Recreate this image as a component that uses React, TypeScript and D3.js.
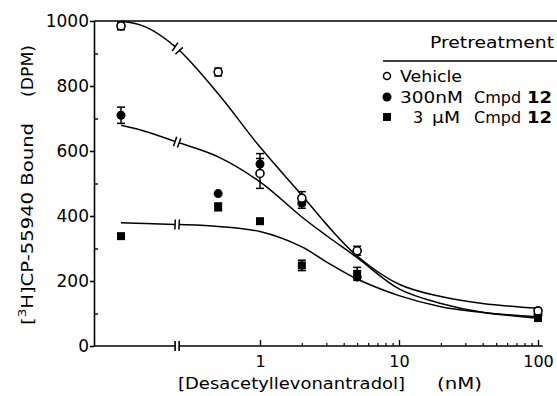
import React, { useEffect, useRef } from 'react';
import * as d3 from 'd3';

// measured points: concentration (nM), bound DPM and s.e.m.
const conc = [0.1, 0.5, 1, 2, 5, 100];
const vehicle = [985, 843, 531, 455, 293, 108];
const vehicleErr = [12, 12, 46, 20, 14, 8];
const cmpd300 = [710, 469, 560, 440, 212, 96];
const cmpd300Err = [25, 0, 32, 16, 0, 0];
const cmpd3 = [338, 428, 384, 248, 222, 86];
const cmpd3Err = [0, 12, 0, 16, 20, 8];

// fitted curves
const fitConc = [0.1, 0.15, 0.25, 0.5, 1, 2, 3, 5, 10, 20, 40, 100];
const vehicleFit = [1000, 982, 918, 776, 612, 464, 375, 277, 190, 152, 131, 116];
const cmpd300Fit = [679, 660, 628, 582, 505, 397, 340, 272, 176, 131, 104, 90];
const cmpd3Fit = [379, 377, 374, 368, 352, 305, 259, 206, 155, 121, 103, 85];

const yTicks = [0, 200, 400, 600, 800, 1000];
const yMinor = [100, 300, 500, 700, 900];
const xTicks = [1, 10, 100];
const xMinor = [2, 3, 4, 5, 6, 7, 8, 9, 20, 30, 40, 50, 60, 70, 80, 90];

export default function App() {
    const ref = useRef<SVGSVGElement | null>(null);

    useEffect(() => {
        const svg = d3.select(ref.current);
        svg.selectAll('*').remove();
        const width = 557, height = 396;
        const left = 94, axisEnd = 108, breakLo = 0.245, breakHi = 0.262;
        const font = 'DejaVu Sans';
        const fit = 'spacingAndGlyphs';

        const x = d3.scaleLog().domain([1, 100]).range([260, 538]);
        const y = d3.scaleLinear().domain([0, 1000]).range([346, 21]);
        const y0 = y(0);

        svg.attr('viewBox', `0 0 ${width} ${height}`);

        const defs = svg.append('defs');
        defs.append('clipPath').attr('id', 'clipL').append('rect')
            .attr('x', 0).attr('y', 0).attr('width', x(breakLo)).attr('height', height);
        defs.append('clipPath').attr('id', 'clipR').append('rect')
            .attr('x', x(breakHi)).attr('y', 0).attr('width', width - x(breakHi)).attr('height', height);

        // y axis
        const ya = svg.append('g').attr('transform', `translate(${left},0)`)
            .call(d3.axisLeft(y).tickValues(yTicks).tickSize(4).tickSizeOuter(0).tickPadding(1)
                .tickFormat(d3.format('d')));
        ya.selectAll('text').attr('font-family', font).attr('font-size', 17).attr('fill', '#000');
        ya.selectAll('line, path').attr('stroke', '#000').attr('stroke-width', 1.6);
        const ym = svg.append('g').attr('transform', `translate(${left},0)`)
            .call(d3.axisLeft(y).tickValues(yMinor).tickSize(-4).tickFormat(() => ''));
        ym.select('.domain').remove();
        ym.selectAll('line').attr('stroke', '#000').attr('stroke-width', 1.4);

        // top frame line
        svg.append('line').attr('x1', left).attr('x2', width).attr('y1', y(1000)).attr('y2', y(1000))
            .attr('stroke', '#000').attr('stroke-width', 1.6);

        // x axis with break
        const xa = svg.append('g').attr('transform', `translate(0,${y0})`)
            .call(d3.axisBottom(x).tickValues(xTicks).tickSize(-6).tickPadding(10).tickFormat(d3.format('d')));
        xa.select('.domain').remove();
        xa.selectAll('text').attr('font-family', font).attr('font-size', 16).attr('fill', '#000');
        xa.selectAll('line').attr('stroke', '#000').attr('stroke-width', 1.4);
        const xm = svg.append('g').attr('transform', `translate(0,${y0})`)
            .call(d3.axisBottom(x).tickValues(xMinor).tickSize(-3).tickFormat(() => ''));
        xm.select('.domain').remove();
        xm.selectAll('line').attr('stroke', '#000').attr('stroke-width', 1.2);

        const axisLine = svg.append('g').attr('stroke', '#000').attr('stroke-width', 1.6);
        axisLine.append('line').attr('x1', left).attr('x2', x(breakLo)).attr('y1', y0).attr('y2', y0);
        axisLine.append('line').attr('x1', x(breakHi)).attr('x2', x(axisEnd)).attr('y1', y0).attr('y2', y0);
        [breakLo, breakHi].forEach(b => {
            axisLine.append('line').attr('x1', x(b)).attr('x2', x(b)).attr('y1', y0 - 5).attr('y2', y0 + 5);
        });

        // fitted curves with break
        const line = d3.line<number>()
            .x((_, i) => x(fitConc[i]))
            .y(d => y(d))
            .curve(d3.curveCatmullRom.alpha(0.5));

        [vehicleFit, cmpd300Fit, cmpd3Fit].forEach(series => {
            ['clipL', 'clipR'].forEach(c => {
                svg.append('path').datum(series)
                    .attr('fill', 'none').attr('stroke', '#000').attr('stroke-width', 1.5)
                    .attr('clip-path', `url(#${c})`)
                    .attr('d', line as any);
            });
            const px = fitConc.map(c => x(c));
            const py = series.map(v => y(v));
            [breakLo, breakHi].forEach(b => {
                const bx = x(b);
                let i = 0;
                while (i < px.length - 2 && px[i + 1] < bx) i++;
                const t = (bx - px[i]) / (px[i + 1] - px[i]);
                const by = py[i] + t * (py[i + 1] - py[i]);
                const a = Math.atan2(py[i + 1] - py[i], px[i + 1] - px[i]);
                const dx = -Math.sin(a) * 5, dy = Math.cos(a) * 5;
                svg.append('line')
                    .attr('x1', bx - dx).attr('y1', by - dy).attr('x2', bx + dx).attr('y2', by + dy)
                    .attr('stroke', '#000').attr('stroke-width', 1.5);
            });
        });

        // error bars
        const errs = svg.append('g').attr('stroke', '#000').attr('stroke-width', 1.5);
        [[vehicle, vehicleErr], [cmpd300, cmpd300Err], [cmpd3, cmpd3Err]].forEach(([vals, e]) => {
            vals.forEach((v, i) => {
                if (!e[i]) return;
                const cx = x(conc[i]);
                errs.append('line').attr('x1', cx).attr('x2', cx).attr('y1', y(v - e[i])).attr('y2', y(v + e[i]));
                [v - e[i], v + e[i]].forEach(w => {
                    errs.append('line').attr('x1', cx - 4).attr('x2', cx + 4).attr('y1', y(w)).attr('y2', y(w));
                });
            });
        });

        // markers
        svg.append('g').selectAll('rect').data(cmpd3).join('rect')
            .attr('x', (_, i) => x(conc[i]) - 4).attr('y', d => y(d) - 4)
            .attr('width', 8).attr('height', 8).attr('fill', '#000');
        svg.append('g').selectAll('circle').data(cmpd300).join('circle')
            .attr('cx', (_, i) => x(conc[i])).attr('cy', d => y(d)).attr('r', 4.5).attr('fill', '#000');
        svg.append('g').selectAll('circle').data(vehicle).join('circle')
            .attr('cx', (_, i) => x(conc[i])).attr('cy', d => y(d)).attr('r', 4)
            .attr('fill', '#fff').attr('stroke', '#000').attr('stroke-width', 1.6);

        // axis titles
        svg.append('text').attr('x', 178).attr('y', 389)
            .attr('font-family', font).attr('font-size', 16)
            .attr('textLength', 227).attr('lengthAdjust', fit)
            .text('[Desacetyllevonantradol]');
        svg.append('text').attr('x', 437).attr('y', 389)
            .attr('font-family', font).attr('font-size', 16)
            .attr('textLength', 45).attr('lengthAdjust', fit)
            .text('(nM)');

        const yt = svg.append('text').attr('transform', 'translate(33,325) rotate(-90)')
            .attr('font-family', font).attr('font-size', 16)
            .attr('textLength', 202).attr('lengthAdjust', fit);
        yt.append('tspan').text('[');
        yt.append('tspan').attr('font-size', 11).attr('dy', -7).text('3');
        yt.append('tspan').attr('dy', 7).text('H]CP-55940 Bound');
        svg.append('text').attr('transform', 'translate(33,97) rotate(-90)')
            .attr('font-family', font).attr('font-size', 16)
            .attr('textLength', 52).attr('lengthAdjust', fit)
            .text('(DPM)');

        // legend
        const lg = svg.append('g').attr('font-family', font).attr('font-size', 16).attr('fill', '#000');
        lg.append('text').attr('x', 430).attr('y', 48)
            .attr('textLength', 124).attr('lengthAdjust', fit).text('Pretreatment');
        lg.append('line').attr('x1', 383).attr('x2', width).attr('y1', 61).attr('y2', 61)
            .attr('stroke', '#000').attr('stroke-width', 1.6);

        lg.append('circle').attr('cx', 387).attr('cy', 76).attr('r', 3.5)
            .attr('fill', '#fff').attr('stroke', '#000').attr('stroke-width', 1.5);
        lg.append('text').attr('x', 400).attr('y', 82)
            .attr('textLength', 62).attr('lengthAdjust', fit).text('Vehicle');

        lg.append('circle').attr('cx', 387).attr('cy', 97).attr('r', 4.5).attr('fill', '#000');
        lg.append('text').attr('x', 400).attr('y', 103)
            .attr('textLength', 63).attr('lengthAdjust', fit).text('300nM');
        lg.append('text').attr('x', 474).attr('y', 103).text('Cmpd');
        lg.append('text').attr('x', 527).attr('y', 103).attr('font-weight', 'bold')
            .attr('textLength', 25).attr('lengthAdjust', fit).text('12');

        lg.append('rect').attr('x', 383).attr('y', 113).attr('width', 8).attr('height', 8).attr('fill', '#000');
        lg.append('text').attr('x', 413).attr('y', 123).text('3');
        lg.append('text').attr('x', 432).attr('y', 123)
            .attr('textLength', 28).attr('lengthAdjust', fit).text('µM');
        lg.append('text').attr('x', 474).attr('y', 123).text('Cmpd');
        lg.append('text').attr('x', 527).attr('y', 123).attr('font-weight', 'bold')
            .attr('textLength', 25).attr('lengthAdjust', fit).text('12');
    }, []);

    return <svg ref={ref} width={557} height={396}
        style={{ position: 'absolute', left: 0, top: 0, display: 'block', background: '#fff' }} />;
}
